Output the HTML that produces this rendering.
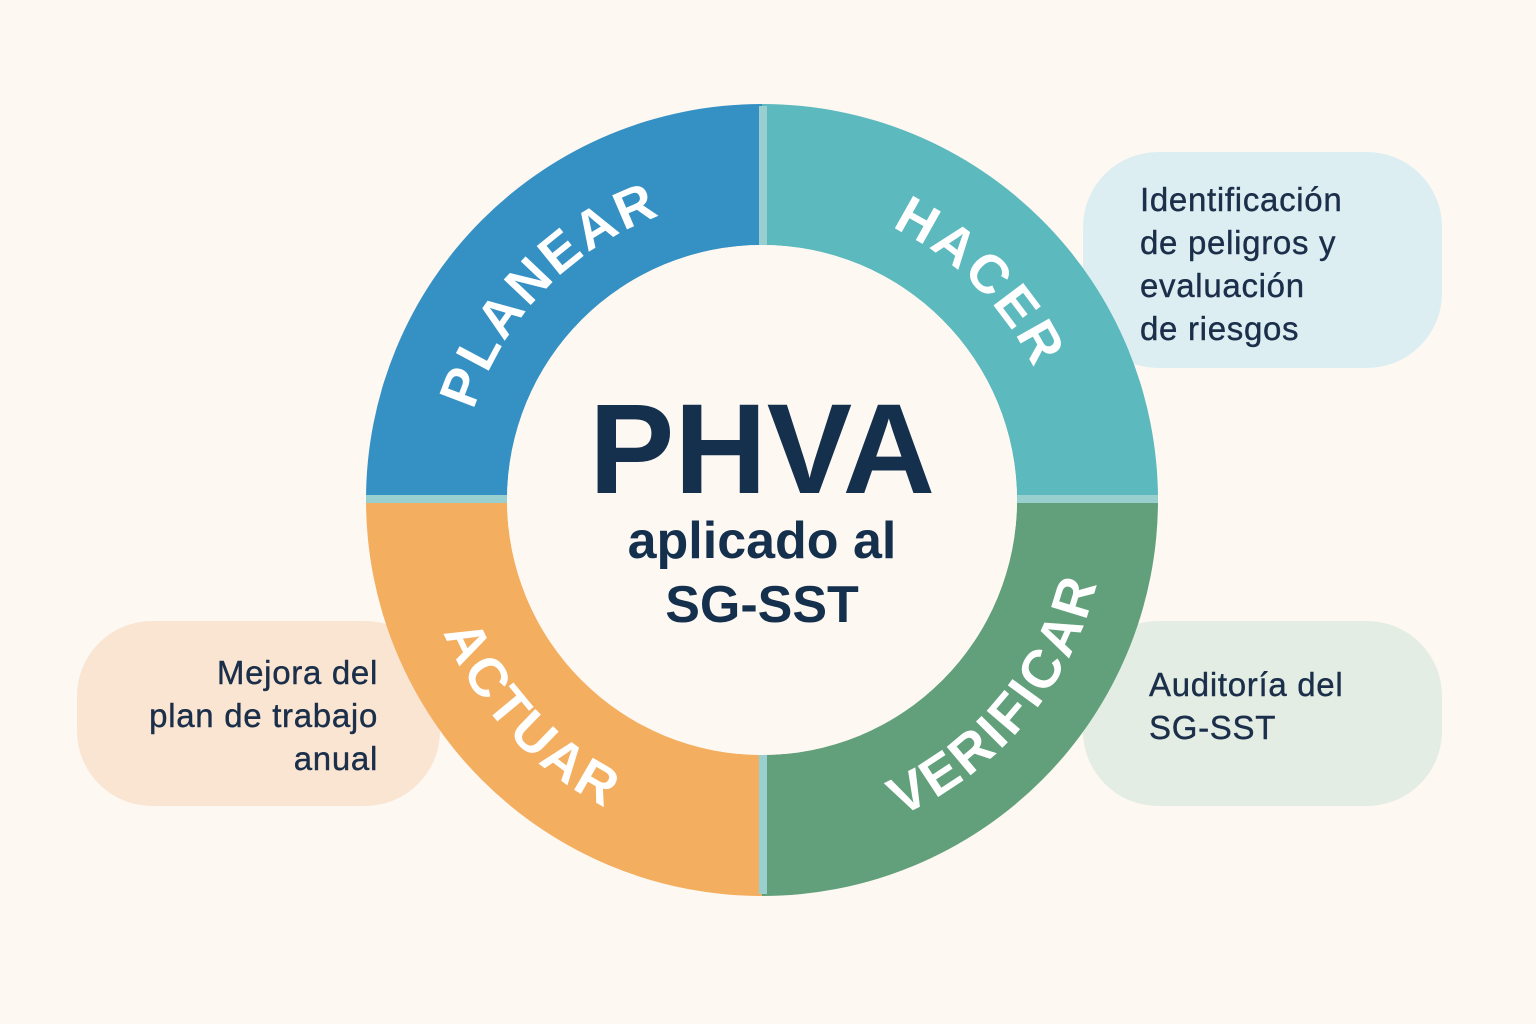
<!DOCTYPE html>
<html><head><meta charset="utf-8"><style>
html,body{margin:0;padding:0;background:#FDF8F2;}
body{width:1536px;height:1024px;position:relative;overflow:hidden;font-family:"Liberation Sans","DejaVu Sans",sans-serif;}
.box{position:absolute;border-radius:75px;color:#1B2F4A;font-size:33px;line-height:43px;letter-spacing:0.7px;-webkit-text-stroke:0.4px #1B2F4A;}
</style></head><body>
<div class="box" style="left:1083px;top:152px;width:359px;height:216px;background:#DDEEF2;"><div style="position:absolute;left:57px;top:26px;">Identificación<br>de peligros y<br>evaluación<br>de riesgos</div></div>
<div class="box" style="left:1083px;top:621px;width:359px;height:185px;background:#E3EDE3;"><div style="position:absolute;left:66px;top:42px;">Auditoría del<br>SG-SST</div></div>
<div class="box" style="left:77px;top:621px;width:363px;height:185px;background:#FAE5D2;"><div style="position:absolute;right:62px;top:30px;text-align:right;">Mejora del<br>plan de trabajo<br>anual</div></div>
<svg width="1536" height="1024" style="position:absolute;left:0;top:0" id="s">
<defs>
<path id="p1"/><path id="p2"/><path id="p3"/><path id="p4"/>
</defs>
<path id="q1" fill="#3590C4"/><path id="q2" fill="#5CB9BD"/><path id="q3" fill="#62A07B"/><path id="q4" fill="#F4AE5F"/>
<rect x="759" y="106" width="8" height="788" fill="#9ACFCF"/>
<rect x="366" y="495" width="792" height="8" fill="#9ACFCF"/>
<circle cx="762" cy="500" r="255" fill="#FDF8F2"/>
<g font-family="Liberation Sans, sans-serif" font-weight="bold" font-size="54" fill="#fff" letter-spacing="3">
<text><textPath href="#p1" startOffset="50%" text-anchor="middle">PLANEAR</textPath></text>
<text><textPath href="#p2" startOffset="50%" text-anchor="middle">HACER</textPath></text>
<text><textPath href="#p3" startOffset="50%" text-anchor="middle">VERIFICAR</textPath></text>
<text><textPath href="#p4" startOffset="50%" text-anchor="middle">ACTUAR</textPath></text>
</g>
<g font-family="Liberation Sans, sans-serif" fill="#14304D" text-anchor="middle">
<text x="762" y="493" font-size="128" font-weight="bold">PHVA</text>
<text x="762" y="558" font-size="52" font-weight="bold">aplicado al</text>
<text x="762" y="622" font-size="52" font-weight="bold">SG-SST</text>
</g>
</svg>
<script>
var cx=762,cy=500,R=396,r=255;
function P(a,rad){a=a*Math.PI/180;return [cx+rad*Math.cos(a),cy+rad*Math.sin(a)];}
function sec(a1,a2){var o1=P(a1,R),o2=P(a2,R),i2=P(a2,r),i1=P(a1,r);
return "M"+o1+" A"+R+" "+R+" 0 0 1 "+o2+" L"+i2+" A"+r+" "+r+" 0 0 0 "+i1+"Z";}
document.getElementById('q1').setAttribute('d',sec(180,270));
document.getElementById('q2').setAttribute('d',sec(270,360));
document.getElementById('q3').setAttribute('d',sec(0,90));
document.getElementById('q4').setAttribute('d',sec(90,180));
function arc(c,rad,cw){var a1=cw?c-70:c+70,a2=cw?c+70:c-70;var s=P(a1,rad),e=P(a2,rad);
return "M"+s+" A"+rad+" "+rad+" 0 0 "+(cw?1:0)+" "+e;}
document.getElementById('p1').setAttribute('d',arc(-136,302,true));
document.getElementById('p2').setAttribute('d',arc(-45,302,true));
document.getElementById('p3').setAttribute('d',arc(40,345,false));
document.getElementById('p4').setAttribute('d',arc(137,345,false));
</script>
</body></html>
